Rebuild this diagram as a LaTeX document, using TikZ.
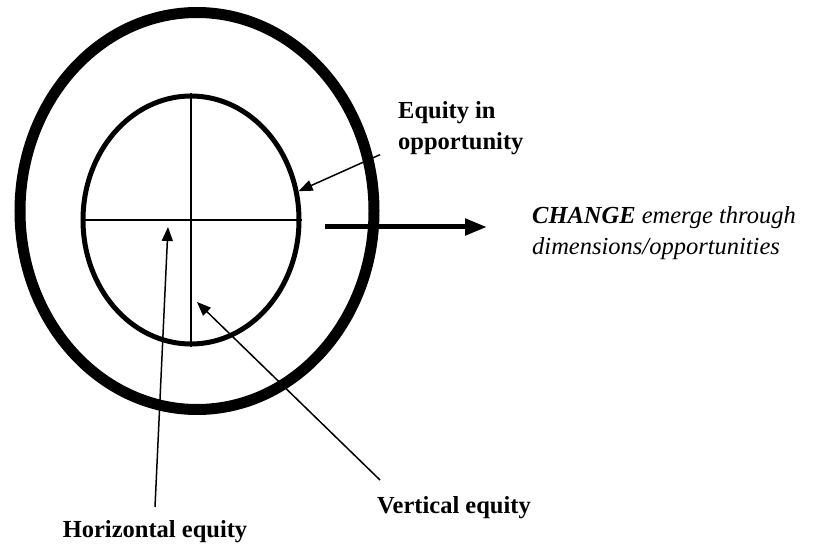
\documentclass[tikz,border=0pt]{standalone}
\usepackage{fontspec}
\setmainfont{Liberation Serif}
\usepackage{tikz}
\usetikzlibrary{arrows.meta, shapes.geometric, calc, positioning}

\begin{document}
\begin{tikzpicture}[x=1pt, y=-1pt,
    ring/.style={draw, ellipse, inner sep=0pt},
    lbl/.style={font=\fontsize{24.5}{31}\selectfont\bfseries, inner sep=0pt, align=left},
    thinarrow/.style={line width=1.5pt, -{Triangle[length=14pt, width=11pt]}}]
  \useasboundingbox (0,0) rectangle (833,548);
  % Outer and inner rings
  \node[ring, line width=11pt, minimum width=354pt, minimum height=397pt] (outer) at (197,211) {};
  \node[ring, line width=5pt, minimum width=216pt, minimum height=248pt] (inner) at (191,220) {};
  % Cross through the inner ring
  \draw[line width=1.5pt] (inner.west) -- (inner.east);
  \draw[line width=1.5pt] (inner.north) -- (inner.south);
  % Labels
  \node[lbl, anchor=north west] (eqopp) at (398,101) {Equity in\\opportunity};
  \node[lbl, anchor=north west] (vert) at (377,496) {Vertical equity};
  \node[lbl, anchor=north] (horiz) at (155,520) {Horizontal equity};
  \node[lbl, font=\fontsize{24.5}{31}\selectfont\itshape, anchor=north west] (change) at (532,206)
        {\textbf{CHANGE} emerge through\\dimensions/opportunities};
  % Arrow ends inside the rings
  \coordinate (htip) at (168,227);
  \coordinate (vtip) at (197,302);
  \coordinate (cfrom) at (325,227);
  \draw[thinarrow] ([xshift=-18pt]eqopp.south west) -- (inner.15);
  \draw[thinarrow] ([xshift=3pt, yshift=16pt]vert.north west) -- (vtip);
  \draw[thinarrow] ([yshift=13pt]horiz.north) -- (htip);
  \draw[line width=5pt, -{Triangle[length=22pt, width=16pt]}] (cfrom) -- ([xshift=-45pt]cfrom -| change.west);
\end{tikzpicture}
\end{document}
